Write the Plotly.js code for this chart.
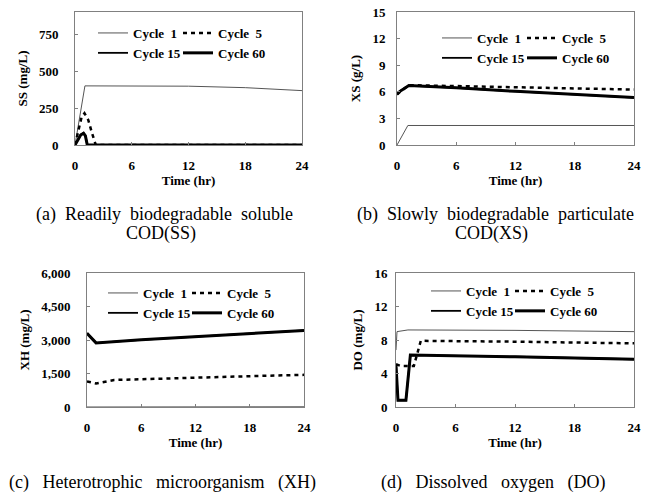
<!DOCTYPE html>
<html>
<head>
<meta charset="utf-8">
<script src="https://cdn.plot.ly/plotly-3.0.1.min.js"></script>
<style>html,body{margin:0;padding:0;background:#fff}#chart{width:660px;height:502px}</style>
</head>
<body>
<div id="chart"></div>
<script>
// ---- Data ----
const seriesNames = ['Cycle\u00a0\u00a01', 'Cycle\u00a0\u00a05', 'Cycle 15', 'Cycle 60'];
const xTicks = [0, 6, 12, 18, 24];

// (a) SS (mg/L)
const ssC1_t = [0, 1.05, 12, 18, 24];
const ssC1 = [0, 400, 398, 388, 368];
const ssC5_t = [0, 0.35, 0.7, 1.0, 1.4, 1.8, 2.2, 24];
const ssC5 = [0, 105, 190, 215, 170, 80, 0, 0];
const ssC15_t = [0, 0.3, 0.6, 0.9, 1.1, 1.3, 24];
const ssC15 = [0, 40, 70, 82, 65, 0, 0];
const ssC60_t = [0, 0.3, 0.6, 0.9, 1.1, 1.3, 24];
const ssC60 = [0, 38, 68, 80, 62, 0, 0];

// (b) XS (g/L)
const xsC1_t = [0, 1.1, 24];
const xsC1 = [0, 2.2, 2.2];
const xsC5_t = [0, 0.3, 1.2, 6, 12, 18, 24];
const xsC5 = [5.7, 6.0, 6.75, 6.65, 6.55, 6.4, 6.25];
const xsC15_t = [0, 0.3, 1.2, 6, 12, 18, 24];
const xsC15 = [5.8, 6.1, 6.7, 6.45, 6.05, 5.7, 5.35];
const xsC60_t = [0, 0.3, 1.2, 6, 12, 18, 24];
const xsC60 = [5.75, 6.05, 6.7, 6.45, 6.05, 5.7, 5.35];

// (c) XH (mg/L)
const xhC1_t = [0, 24];
const xhC1 = [0, 10];
const xhC5_t = [0, 1, 3, 6, 12, 18, 24];
const xhC5 = [1145, 1055, 1210, 1250, 1320, 1380, 1440];
const xhC15_t = [0, 1, 6, 12, 18, 24];
const xhC15 = [3310, 2870, 3010, 3160, 3290, 3430];
const xhC60_t = [0, 1, 6, 12, 18, 24];
const xhC60 = [3300, 2870, 3010, 3160, 3290, 3430];

// (d) DO (mg/L)
const doC1_t = [0, 0.1, 1.2, 12, 24];
const doC1 = [6.8, 9.0, 9.2, 9.15, 9.0];
const doC5_t = [0, 0.5, 1.8, 2.5, 12, 24];
const doC5 = [5.1, 4.9, 4.9, 7.9, 7.8, 7.6];
const doC15_t = [0, 0.2, 1.0, 1.45, 12, 24];
const doC15 = [5.0, 0.8, 0.8, 6.2, 6.0, 5.7];
const doC60_t = [0, 0.2, 1.0, 1.45, 12, 24];
const doC60 = [5.0, 0.8, 0.8, 6.2, 6.0, 5.7];

const yTitles = ['SS (mg/L)', 'XS (g/L)', 'XH (mg/L)', 'DO (mg/L)'];
const S2 = '\u00a0 ', S3 = '\u00a0\u00a0 ';
const captionLines = [
  ['(a)' + S2 + 'Readily' + S2 + 'biodegradable' + S2 + 'soluble', 'COD(SS)'],
  ['(b)' + S2 + 'Slowly' + S2 + 'biodegradable' + S2 + 'particulate', 'COD(XS)'],
  ['(c)' + S3 + 'Heterotrophic' + S3 + 'microorganism' + S3 + '(XH)'],
  ['(d)' + S3 + 'Dissolved' + S3 + 'oxygen' + S3 + '(DO)']
];

// ---- Styles ----
const W = 660, H = 502;
const lineStyles = [
  {color: '#555555', width: 1},
  {color: '#000000', width: 2.5, dash: '4px,4px'},
  {color: '#000000', width: 1.8},
  {color: '#000000', width: 3}
];
const serif = 'Liberation Serif, Times New Roman, serif';
const boldFont = {family: serif, size: 13, color: '#000', weight: 'bold'};

const panels = [
  {data: [[ssC1_t, ssC1], [ssC5_t, ssC5], [ssC15_t, ssC15], [ssC60_t, ssC60]],
   box: [75, 302, 12, 145], yr: [0, 900], dt: 250, fmt: '', ystand: 13,
   leg1: [133, 28], leg2: [218, 28]},
  {data: [[xsC1_t, xsC1], [xsC5_t, xsC5], [xsC15_t, xsC15], [xsC60_t, xsC60]],
   box: [397, 634, 12, 145], yr: [0, 15], dt: 3, fmt: '', ystand: 8,
   leg1: [477, 33], leg2: [562, 33]},
  {data: [[xhC1_t, xhC1], [xhC5_t, xhC5], [xhC15_t, xhC15], [xhC60_t, xhC60]],
   box: [87, 304, 273, 407], yr: [0, 6000], dt: 1500, fmt: ',', ystand: 13,
   leg1: [143, 288], leg2: [227, 288]},
  {data: [[doC1_t, doC1], [doC5_t, doC5], [doC15_t, doC15], [doC60_t, doC60]],
   box: [396, 634, 273, 407], yr: [0, 16], dt: 4, fmt: '', ystand: 5,
   leg1: [466, 286], leg2: [550, 286]}
];

const traces = [];
const layout = {
  width: W, height: H,
  margin: {l: 0, r: 0, t: 0, b: 0, autoexpand: false},
  paper_bgcolor: '#fff', plot_bgcolor: '#fff',
  showlegend: true,
  font: {family: serif, color: '#000'},
  annotations: []
};

panels.forEach((p, i) => {
  const n = i + 1;
  const xa = 'xaxis' + (n === 1 ? '' : n), ya = 'yaxis' + (n === 1 ? '' : n);
  const xr = 'x' + (n === 1 ? '' : n), yr = 'y' + (n === 1 ? '' : n);
  const lg1 = 'legend' + (2 * i === 0 ? '' : (2 * i + 1));
  const lg2 = 'legend' + (2 * i + 2);
  p.data.forEach((d, k) => {
    traces.push({
      type: 'scatter', mode: 'lines', x: d[0], y: d[1],
      name: seriesNames[k], xaxis: xr, yaxis: yr,
      line: Object.assign({}, lineStyles[k]),
      legend: (k === 0 || k === 2) ? lg1 : lg2,
      hoverinfo: 'skip'
    });
  });
  const [l, r, t, b] = p.box;
  layout[xa] = {
    domain: [l / W, r / W], anchor: yr, range: [0, 24], tickvals: xTicks,
    showline: true, mirror: true, linecolor: '#808080', linewidth: 1,
    ticks: 'inside', ticklen: 3, tickcolor: '#808080',
    showgrid: false, zeroline: false, tickfont: boldFont, ticklabelstandoff: 8,
    automargin: false,
    title: {text: 'Time (hr)', font: boldFont, standoff: 4}
  };
  layout[ya] = {
    domain: [1 - b / H, 1 - t / H], anchor: xr, range: p.yr, dtick: p.dt, tick0: 0,
    tickformat: p.fmt,
    showline: true, mirror: true, linecolor: '#808080', linewidth: 1,
    ticks: 'inside', ticklen: 3, tickcolor: '#808080',
    showgrid: false, zeroline: false, tickfont: boldFont, ticklabelstandoff: p.ystand,
    automargin: false,
    title: {text: yTitles[i], font: boldFont, standoff: 8}
  };
  const legBase = {
    xref: 'paper', yref: 'paper', xanchor: 'left', yanchor: 'top',
    bgcolor: 'rgba(0,0,0,0)', borderwidth: 0, font: boldFont, itemwidth: 30,
    traceorder: 'normal'
  };
  layout[lg1] = Object.assign({}, legBase, {x: (p.leg1[0] - 40) / W, y: 1 - (p.leg1[1] - 10) / H});
  layout[lg2] = Object.assign({}, legBase, {x: (p.leg2[0] - 40) / W, y: 1 - (p.leg2[1] - 10) / H});
});

const capPos = [[[164, 214], [161, 233]], [[495, 214], [491, 233]], [[162, 482]], [[493, 482]]];
captionLines.forEach((lines, i) => {
  lines.forEach((txt, j) => {
    layout.annotations.push({
      text: txt, xref: 'paper', yref: 'paper',
      x: capPos[i][j][0] / W, y: 1 - capPos[i][j][1] / H,
      xanchor: 'center', yanchor: 'middle', showarrow: false, align: 'center',
      font: {family: serif, size: 18, color: '#000'}
    });
  });
});

Plotly.newPlot('chart', traces, layout, {staticPlot: true, displayModeBar: false});
</script>
</body>
</html>
